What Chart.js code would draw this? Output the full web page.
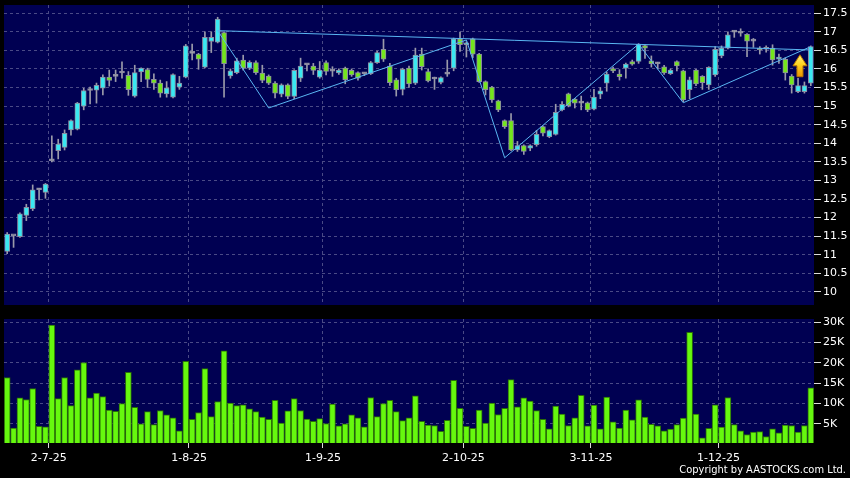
<!DOCTYPE html>
<html>
<head>
<meta charset="utf-8">
<script src="https://cdn.jsdelivr.net/npm/chart.js@4.4.1/dist/chart.umd.min.js"></script>
<style>
  html, body { margin: 0; padding: 0; background: #000; }
  body { width: 850px; height: 478px; position: relative; overflow: hidden; }
  #priceChart { position: absolute; left: 0; top: 0; }
  #volChart { position: absolute; left: 0; top: 310px; }
  #copy { position: absolute; right: 4px; top: 463px; color: #fff; font: 11px "DejaVu Sans Condensed", "DejaVu Sans", sans-serif; }
</style>
</head>
<body>
<canvas id="priceChart" width="850" height="310"></canvas>
<canvas id="volChart" width="850" height="168"></canvas>
<div id="copy">Copyright by AASTOCKS.com Ltd.</div>
<script>
const dates = [
  '20-6-25','23-6-25','24-6-25','25-6-25','26-6-25','27-6-25','30-6-25',
  '2-7-25','3-7-25','4-7-25','7-7-25','8-7-25','9-7-25','10-7-25','11-7-25','14-7-25','15-7-25','16-7-25','17-7-25','18-7-25','21-7-25','22-7-25','23-7-25','24-7-25','25-7-25','28-7-25','29-7-25','30-7-25','31-7-25',
  '1-8-25','4-8-25','5-8-25','6-8-25','7-8-25','8-8-25','11-8-25','12-8-25','13-8-25','14-8-25','15-8-25','18-8-25','19-8-25','20-8-25','21-8-25','22-8-25','25-8-25','26-8-25','27-8-25','28-8-25','29-8-25',
  '1-9-25','2-9-25','3-9-25','4-9-25','5-9-25','8-9-25','9-9-25','10-9-25','11-9-25','12-9-25','15-9-25','16-9-25','17-9-25','18-9-25','19-9-25','22-9-25','23-9-25','24-9-25','25-9-25','26-9-25','29-9-25','30-9-25',
  '2-10-25','3-10-25','6-10-25','8-10-25','9-10-25','10-10-25','13-10-25','14-10-25','15-10-25','16-10-25','17-10-25','20-10-25','21-10-25','22-10-25','23-10-25','24-10-25','27-10-25','28-10-25','30-10-25','31-10-25',
  '3-11-25','4-11-25','5-11-25','6-11-25','7-11-25','10-11-25','11-11-25','12-11-25','13-11-25','14-11-25','17-11-25','18-11-25','19-11-25','20-11-25','21-11-25','24-11-25','25-11-25','26-11-25','27-11-25','28-11-25',
  '1-12-25','2-12-25','3-12-25','4-12-25','5-12-25','8-12-25','9-12-25','10-12-25','11-12-25','12-12-25','15-12-25','16-12-25','17-12-25','18-12-25','19-12-25'
];
const tickLabels = ['2-7-25', '1-8-25', '1-9-25', '2-10-25', '3-11-25', '1-12-25'];

const opens = [
  11.09, 11.51, 11.49, 12.06, 12.24, 12.75, 12.68, 13.53, 13.80, 13.89,
  14.36, 14.38, 15.00, 15.42, 15.43, 15.48, 15.78, 15.80, 15.89, 15.83,
  15.27, 15.92, 15.98, 15.72, 15.62, 15.33, 15.24, 15.51, 15.78, 16.42,
  16.40, 16.05, 16.74, 16.72, 16.98, 15.81, 15.90, 16.24, 16.02, 16.17,
  15.89, 15.81, 15.62, 15.32, 15.57, 15.26, 15.75, 16.11, 16.08, 15.78,
  16.17, 15.94, 15.89, 16.02, 15.96, 15.90, 15.87, 15.87, 16.17, 16.53,
  16.08, 15.71, 15.45, 16.02, 15.62, 16.40, 15.93, 15.73, 15.64, 15.86,
  16.02, 16.81, 16.65, 16.81, 16.40, 15.66, 15.51, 15.14, 14.61, 14.61,
  13.82, 13.94, 13.87, 13.96, 14.45, 14.18, 14.24, 14.90, 15.33, 15.19,
  15.08, 15.09, 14.92, 15.32, 15.62, 16.01, 15.86, 16.02, 16.20, 16.20,
  16.63, 16.22, 16.14, 16.06, 15.87, 16.20, 15.95, 15.44, 15.97, 15.80,
  15.57, 15.84, 16.35, 16.56, 16.99, 16.96, 16.93, 16.75, 16.56, 16.53,
  16.56, 16.26, 16.26, 15.81, 15.39, 15.39, 15.62
];
const highs = [
  11.60, 11.52, 12.13, 12.36, 12.88, 12.79, 12.92, 14.20, 14.11, 14.36,
  14.63, 15.10, 15.48, 15.51, 15.62, 15.84, 15.97, 15.97, 16.19, 15.93,
  16.10, 16.03, 16.02, 15.87, 15.70, 15.66, 15.87, 15.80, 16.66, 16.67,
  16.42, 17.00, 17.00, 17.39, 17.00, 16.00, 16.29, 16.37, 16.22, 16.22,
  16.10, 15.84, 15.66, 15.60, 15.60, 15.98, 16.29, 16.14, 16.15, 16.20,
  16.22, 16.06, 16.00, 16.05, 16.00, 15.92, 15.90, 16.20, 16.48, 16.80,
  16.15, 15.75, 16.02, 16.08, 16.56, 16.56, 16.00, 15.78, 15.79, 16.24,
  16.83, 16.99, 16.73, 16.83, 16.42, 15.68, 15.53, 15.16, 14.63, 14.80,
  14.05, 13.96, 13.96, 14.35, 14.47, 14.36, 15.05, 15.12, 15.35, 15.21,
  15.27, 15.11, 15.45, 15.50, 15.92, 16.05, 15.98, 16.16, 16.24, 16.68,
  16.65, 16.35, 16.18, 16.10, 16.00, 16.22, 15.97, 15.78, 15.99, 15.82,
  16.06, 16.60, 16.62, 17.00, 17.03, 17.08, 16.95, 16.82, 16.60, 16.62,
  16.65, 16.40, 16.30, 15.85, 15.75, 15.65, 16.62
];
const lows = [
  11.03, 11.20, 11.47, 11.92, 12.19, 12.48, 12.52, 13.50, 13.58, 13.82,
  14.22, 14.36, 14.90, 15.06, 15.08, 15.30, 15.54, 15.66, 15.75, 15.29,
  15.24, 15.66, 15.50, 15.45, 15.24, 15.24, 15.22, 15.45, 15.76, 16.24,
  15.99, 16.03, 16.44, 16.70, 15.24, 15.75, 15.87, 15.97, 15.98, 15.85,
  15.63, 15.58, 15.22, 15.25, 15.20, 15.20, 15.66, 15.95, 15.85, 15.75,
  15.84, 15.80, 15.85, 15.60, 15.80, 15.70, 15.82, 15.85, 16.15, 16.20,
  15.56, 15.27, 15.30, 15.50, 15.58, 15.97, 15.65, 15.45, 15.60, 15.80,
  15.95, 16.47, 16.32, 16.30, 15.64, 15.30, 15.10, 14.85, 14.40, 13.80,
  13.78, 13.70, 13.80, 13.92, 14.20, 14.15, 14.22, 14.87, 14.98, 14.95,
  14.90, 14.85, 14.90, 15.20, 15.40, 15.90, 15.70, 15.75, 16.10, 16.15,
  16.28, 16.05, 16.00, 15.85, 15.85, 15.95, 15.12, 15.20, 15.55, 15.45,
  15.45, 15.80, 16.30, 16.54, 16.85, 16.88, 16.33, 16.58, 16.40, 16.45,
  16.10, 16.15, 15.70, 15.35, 15.36, 15.35, 15.55
];
const closes = [
  11.56, 11.51, 12.10, 12.28, 12.75, 12.75, 12.90, 13.53, 13.98, 14.27,
  14.61, 15.08, 15.42, 15.42, 15.56, 15.78, 15.69, 15.80, 15.89, 15.44,
  15.90, 16.02, 15.72, 15.62, 15.35, 15.49, 15.85, 15.62, 16.62, 16.42,
  16.26, 16.85, 16.85, 17.34, 16.14, 15.95, 16.22, 16.02, 16.18, 15.90,
  15.69, 15.62, 15.35, 15.57, 15.26, 15.96, 16.08, 16.11, 15.96, 15.97,
  15.93, 15.94, 15.97, 15.71, 15.84, 15.75, 15.87, 16.17, 16.44, 16.26,
  15.63, 15.44, 15.99, 15.60, 16.37, 16.06, 15.68, 15.73, 15.77, 15.86,
  16.81, 16.65, 16.70, 16.40, 15.66, 15.44, 15.17, 14.90, 14.45, 13.82,
  13.94, 13.78, 13.94, 14.24, 14.27, 14.34, 14.83, 15.05, 15.01, 15.08,
  15.08, 14.90, 15.24, 15.41, 15.86, 15.95, 15.79, 16.13, 16.13, 16.66,
  16.56, 16.14, 16.14, 15.89, 15.97, 16.08, 15.17, 15.71, 15.60, 15.63,
  16.04, 16.53, 16.56, 16.92, 16.99, 16.96, 16.75, 16.75, 16.51, 16.53,
  16.24, 16.32, 15.89, 15.57, 15.55, 15.55, 16.60
];
// volume in thousands of shares
const volumes = [
  16.4, 4.0, 11.4, 11.0, 13.7, 4.4, 4.3, 29.3, 11.2, 16.4,
  9.5, 18.3, 20.1, 11.4, 12.6, 11.7, 8.4, 8.1, 10.0, 17.7,
  9.1, 5.0, 8.0, 4.8, 8.3, 7.2, 6.5, 3.3, 20.4, 6.1,
  7.8, 18.6, 6.8, 10.5, 23.0, 10.1, 9.5, 9.7, 8.7, 8.0,
  6.7, 6.1, 10.8, 5.2, 8.2, 11.2, 8.3, 6.2, 5.6, 6.3,
  5.1, 9.9, 4.5, 5.0, 7.2, 6.5, 4.3, 11.5, 6.8, 10.0,
  10.8, 8.0, 5.8, 6.5, 11.9, 5.6, 4.7, 4.6, 3.2, 5.9,
  15.7, 8.8, 4.4, 3.9, 8.4, 5.2, 10.1, 7.3, 8.8, 15.9,
  9.2, 11.4, 10.6, 8.3, 6.1, 3.8, 9.4, 7.4, 4.6, 6.5,
  12.0, 4.5, 9.6, 3.8, 11.6, 5.5, 4.0, 8.4, 6.0, 10.9,
  6.7, 4.9, 4.5, 3.3, 3.7, 4.8, 6.4, 27.5, 7.4, 1.6,
  3.9, 9.7, 4.2, 11.5, 4.8, 3.3, 2.4, 3.0, 3.1, 1.9,
  3.8, 2.8, 4.7, 4.6, 3.0, 4.6, 13.9
];

const priceTicks = [10, 10.5, 11, 11.5, 12, 12.5, 13, 13.5, 14, 14.5, 15, 15.5, 16, 16.5, 17, 17.5];
const volumeTicks = [5, 10, 15, 20, 25, 30];

// trend lines (candle index, price)
const zigzagIdx = [33, 41, 72, 78, 99, 106, 126];
const zigzagVal = [17.03, 14.95, 16.78, 13.61, 16.67, 15.09, 16.60];
const topLineIdx = [33, 126];
const topLineVal = [17.03, 16.51];

// signal arrow
const arrowIdx = 124;
const arrowLow = 15.79;
const arrowHigh = 16.38;

const navy = '#000052';
const gridColor = '#4a4a86';
const upColor = '#3ae8f2';
const downColor = '#74e61c';
const dojiColor = '#a4a4ae';
const fontSpec = { family: 'DejaVu Sans', size: 11 };

const bodyColors = opens.map((o, i) => closes[i] > o ? upColor : (closes[i] < o ? downColor : dojiColor));

function monthGrid(ctx) {
  return tickLabels.includes(dates[ctx.index]) ? gridColor : 'rgba(0,0,0,0)';
}
function monthTick(ctx) {
  return tickLabels.includes(dates[ctx.index]) ? '#dddddd' : 'rgba(0,0,0,0)';
}

const panelBg = {
  id: 'panelBg',
  beforeDraw(chart) {
    const a = chart.chartArea;
    const c = chart.ctx;
    c.save();
    c.fillStyle = navy;
    c.fillRect(a.left, a.top, a.right - a.left, a.bottom - a.top);
    c.restore();
  }
};

const arrowPlugin = {
  id: 'arrowPlugin',
  afterDatasetsDraw(chart) {
    const x = chart.scales.x, y = chart.scales.y;
    const c = chart.ctx;
    const cx = x.getPixelForValue(arrowIdx) * 0.7 + x.getPixelForValue(arrowIdx + 1) * 0.3;
    const top = y.getPixelForValue(arrowHigh);
    const bot = y.getPixelForValue(arrowLow);
    const headH = 11, halfW = 7, shaft = 3;
    const g = c.createLinearGradient(0, top, 0, bot);
    g.addColorStop(0, '#fff27a');
    g.addColorStop(0.45, '#ffd21e');
    g.addColorStop(1, '#e89400');
    c.save();
    c.beginPath();
    c.moveTo(cx, top);
    c.lineTo(cx + halfW, top + headH);
    c.lineTo(cx + shaft, top + headH);
    c.lineTo(cx + shaft, bot);
    c.lineTo(cx - shaft, bot);
    c.lineTo(cx - shaft, top + headH);
    c.lineTo(cx - halfW, top + headH);
    c.closePath();
    c.fillStyle = g;
    c.fill();
    c.strokeStyle = '#b87400';
    c.lineWidth = 1;
    c.stroke();
    c.restore();
  }
};

const zigzag = zigzagIdx.map((k, j) => ({ x: dates[k], y: zigzagVal[j] }));
const topLine = topLineIdx.map((k, j) => ({ x: dates[k], y: topLineVal[j] }));

new Chart(document.getElementById('priceChart'), {
  type: 'bar',
  data: {
    labels: dates,
    datasets: [
      {
        type: 'line', label: 'zigzag', data: zigzag,
        borderColor: '#5ab6f2', borderWidth: 1, pointRadius: 0, order: -2
      },
      {
        type: 'line', label: 'top', data: topLine,
        borderColor: '#5ab6f2', borderWidth: 1, pointRadius: 0, order: -1
      },
      {
        label: 'body',
        data: opens.map((o, i) => [o, closes[i]]),
        backgroundColor: bodyColors,
        borderColor: '#8c8ca0',
        borderWidth: 1,
        borderSkipped: false,
        barThickness: 5,
        minBarLength: 2,
        grouped: false,
        order: 0
      },
      {
        label: 'wick',
        data: lows.map((l, i) => [l, highs[i]]),
        backgroundColor: '#9a9aaa',
        borderWidth: 0,
        barThickness: 1,
        grouped: false,
        order: 1
      }
    ]
  },
  options: {
    responsive: false,
    animation: false,
    devicePixelRatio: 1,
    layout: { padding: { left: 4, top: 5, right: 0, bottom: 5 } },
    plugins: { legend: { display: false }, tooltip: { enabled: false } },
    scales: {
      x: {
        offset: true,
        grid: { offset: true, color: monthGrid, drawTicks: false },
        border: { display: false, dash: [3, 3] },
        ticks: { display: false, autoSkip: false },
        afterFit(s) { s.height = 0; s.paddingLeft = 0; s.paddingRight = 0; }
      },
      y: {
        position: 'right',
        min: 9.65,
        max: 17.72,
        afterBuildTicks(s) { s.ticks = priceTicks.map(v => ({ value: v })); },
        grid: { color: gridColor, tickColor: '#dddddd', tickLength: 7 },
        border: { display: false, dash: [3, 3] },
        ticks: { color: '#ffffff', font: fontSpec, padding: 2, callback: v => String(v) },
        afterFit(s) { s.width = 36; s.paddingTop = 0; s.paddingBottom = 0; }
      }
    }
  },
  plugins: [panelBg, arrowPlugin]
});

new Chart(document.getElementById('volChart'), {
  type: 'bar',
  data: {
    labels: dates,
    datasets: [{
      label: 'volume',
      data: volumes,
      backgroundColor: '#66f80e',
      borderColor: '#2a6e08',
      borderWidth: 1,
      barThickness: 6
    }]
  },
  options: {
    responsive: false,
    animation: false,
    devicePixelRatio: 1,
    layout: { padding: { left: 4, top: 9, right: 0, bottom: 0 } },
    plugins: { legend: { display: false }, tooltip: { enabled: false } },
    scales: {
      x: {
        offset: true,
        grid: { offset: true, color: monthGrid, tickColor: monthTick, tickLength: 5 },
        border: { display: false, dash: [3, 3] },
        ticks: {
          color: '#ffffff', font: fontSpec, autoSkip: false, maxRotation: 0, minRotation: 0,
          padding: 4, labelOffset: -3,
          callback: (v, i) => tickLabels.includes(dates[i]) ? dates[i] : ''
        },
        afterFit(s) { s.height = 35; s.paddingLeft = 0; s.paddingRight = 0; }
      },
      y: {
        position: 'right',
        min: 0.3,
        max: 30.8,
        afterBuildTicks(s) { s.ticks = volumeTicks.map(v => ({ value: v })); },
        grid: { color: gridColor, tickColor: '#dddddd', tickLength: 7 },
        border: { display: false, dash: [3, 3] },
        ticks: { color: '#ffffff', font: fontSpec, padding: 2, callback: v => v + 'K' },
        afterFit(s) { s.width = 36; s.paddingTop = 0; s.paddingBottom = 0; }
      }
    }
  },
  plugins: [panelBg]
});
</script>
</body>
</html>
